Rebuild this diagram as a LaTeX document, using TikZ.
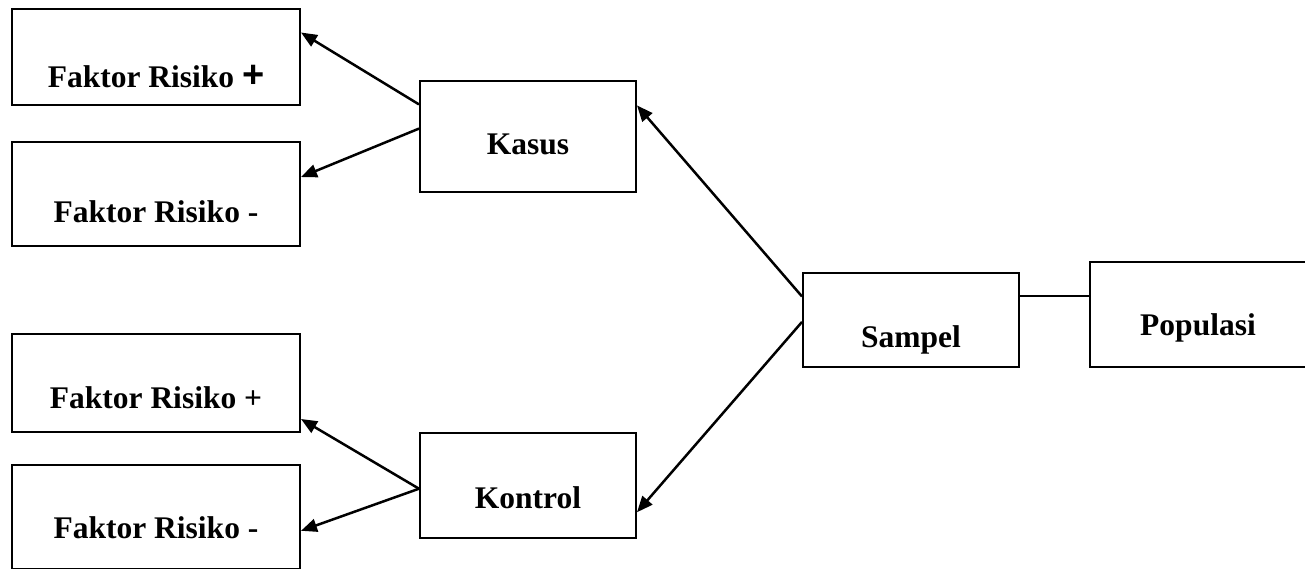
\documentclass[tikz,border=0pt]{standalone}
\usepackage{fontspec}
\setmainfont{Liberation Serif}
\newfontfamily\plusfont{Liberation Sans}
\usetikzlibrary{arrows.meta,calc}
\begin{document}
\begin{tikzpicture}[x=1pt,y=-1pt,
  box/.style={draw=black,line width=2pt,rectangle,inner sep=0pt},
  lbl/.style={font=\fontsize{31.5}{33}\selectfont\bfseries,inner sep=0pt,anchor=base},
  arr/.style={line width=2.5pt,-{Triangle[length=16pt,width=13pt]}},
  conn/.style={line width=2pt}]
\useasboundingbox (0,0) rectangle (1305,568);
\clip (0,0) rectangle (1305,568);
% boxes
\node[box,minimum width=288pt,minimum height=96pt] (fr1) at (156,57) {};
\node[box,minimum width=288pt,minimum height=104pt] (fr2) at (156,194) {};
\node[box,minimum width=216pt,minimum height=111pt] (kasus) at (528,136.5) {};
\node[box,minimum width=288pt,minimum height=98pt] (fr3) at (156,383) {};
\node[box,minimum width=288pt,minimum height=104pt] (fr4) at (156,517) {};
\node[box,minimum width=216pt,minimum height=105pt] (kontrol) at (528,485.5) {};
\node[box,minimum width=216pt,minimum height=94pt] (sampel) at (911,320) {};
\node[box,minimum width=240pt,minimum height=105pt] (popu) at (1210,314.5) {};
% labels
\node[lbl] (t1) at (156,87) {Faktor Risiko {\plusfont\fontsize{38}{38}\selectfont+}};
\node[lbl] (t2) at (156,222) {Faktor Risiko -};
\node[lbl] (t3) at (528,154) {Kasus};
\node[lbl] (t4) at (156,408) {Faktor Risiko +};
\node[lbl] (t5) at (156,538) {Faktor Risiko -};
\node[lbl] (t6) at (528,508) {Kontrol};
\node[lbl] (t7) at (911,347) {Sampel};
\node[lbl] (t8) at (1198,335) {Populasi};
% connector end points
\coordinate (sR) at ($(sampel.north east)!0.255!(sampel.south east)$);
\coordinate (pL) at (sR -| popu.west);
% connectors
\draw[arr] ($(kasus.north west)!0.216!(kasus.south west)$) -- ($(fr1.north east)!0.25!(fr1.south east)$);
\draw[arr] ($(kasus.north west)!0.43!(kasus.south west)$) -- ($(fr2.north east)!0.34!(fr2.south east)$);
\draw[arr] ($(kontrol.north west)!0.53!(kontrol.south west)$) -- ($(fr3.north east)!0.86!(fr3.south east)$);
\draw[arr] ($(kontrol.north west)!0.53!(kontrol.south west)$) -- ($(fr4.north east)!0.63!(fr4.south east)$);
\draw[arr] ($(sampel.north west)!0.255!(sampel.south west)$) -- ($(kasus.north east)!0.225!(kasus.south east)$);
\draw[arr] ($(sampel.north west)!0.52!(sampel.south west)$) -- ($(kontrol.north east)!0.75!(kontrol.south east)$);
\draw[conn] (sR) -- (pL);
\end{tikzpicture}
\end{document}
